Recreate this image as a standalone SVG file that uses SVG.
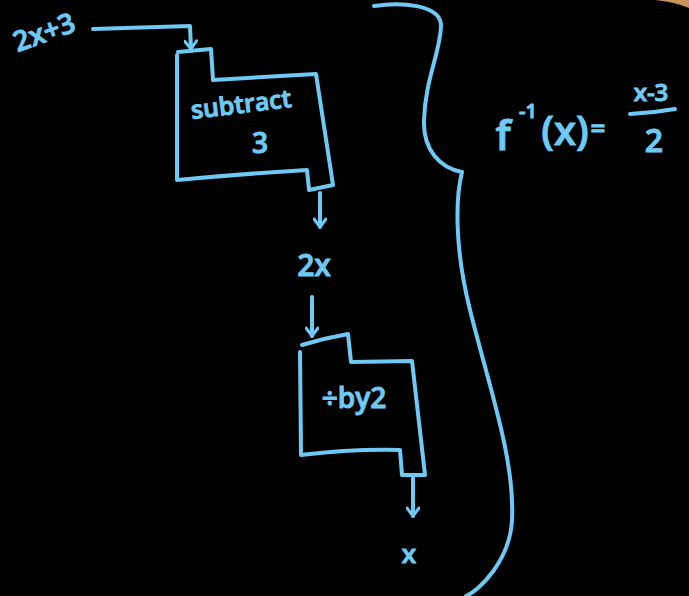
<svg xmlns="http://www.w3.org/2000/svg" width="689" height="596" viewBox="0 0 689 596">
<style>
.s{fill:none;stroke:#6fc9f5;stroke-width:4;stroke-linecap:round;stroke-linejoin:round}
.t{fill:#6fc9f5;font-family:"Open Sans","Liberation Sans",sans-serif;text-anchor:middle;stroke:#6fc9f5;stroke-width:1;font-weight:600}
</style>
<defs>
<marker id="ah" viewBox="0 0 14 14" refX="12" refY="7" markerWidth="14" markerHeight="14" markerUnits="userSpaceOnUse" orient="auto">
<path d="M4,1 L12,7 L4,13" fill="none" stroke="#6fc9f5" stroke-width="3" stroke-linecap="round" stroke-linejoin="round"/>
</marker>
</defs>
<rect width="689" height="596" fill="#000"/>
<path d="M655,0 Q675,2 689,8 L689,0 Z" fill="#c9955c"/>
<g id="input"><text class="t" x="44" y="42" font-size="28" transform="rotate(-20 44 32)">2x+3</text></g>
<g id="subtract">
<path class="s" d="M177,55 L177,180 Q240,174 307,170 L309,190 L333,185 L316,74 L213,80 L211,49 L178,52"/>
<text class="t" x="241" y="113" font-size="25" transform="rotate(-7 241 104)">subtract</text>
<text class="t" x="260" y="153" font-size="28">3</text>
</g>
<g id="mid"><text class="t" x="314" y="276" font-size="30">2x</text></g>
<g id="divide">
<path class="s" d="M300,352 L301,455 Q350,449 400,450 L402,475 L425,475 L412,361 L351,362 L348,334 Q325,338 302,345"/>
<text class="t" x="354" y="408" font-size="28">÷by2</text>
</g>
<g id="output"><text class="t" x="409" y="563" font-size="26">x</text></g>
<g id="formula">
<text class="t" x="503" y="150" font-size="42">f</text>
<text class="t" x="528" y="118" font-size="20">-1</text>
<text class="t" x="565" y="145" font-size="40">(x)</text>
<text class="t" x="598" y="137" font-size="26">=</text>
<text class="t" x="651" y="101" font-size="24">x-3</text>
<path class="s" d="M630,114 Q652,113 675,109"/>
<text class="t" x="654" y="152" font-size="32">2</text>
</g>
<g id="connectors">
<path class="s" d="M93,29 L190,26 L191,49" marker-end="url(#ah)"/>
<path class="s" d="M320,193 L320,227" marker-end="url(#ah)"/>
<path class="s" d="M312,297 L312,336" marker-end="url(#ah)"/>
<path class="s" d="M413,478 L413,516" marker-end="url(#ah)"/>
<path class="s" d="M374,6 C400,2 440,4 441,25 C441,50 425,80 424,120 C423,150 440,168 462,172 C455,200 455,250 470,310 C490,390 515,460 512,520 C510,560 480,590 466,596"/>
</g>
</svg>
